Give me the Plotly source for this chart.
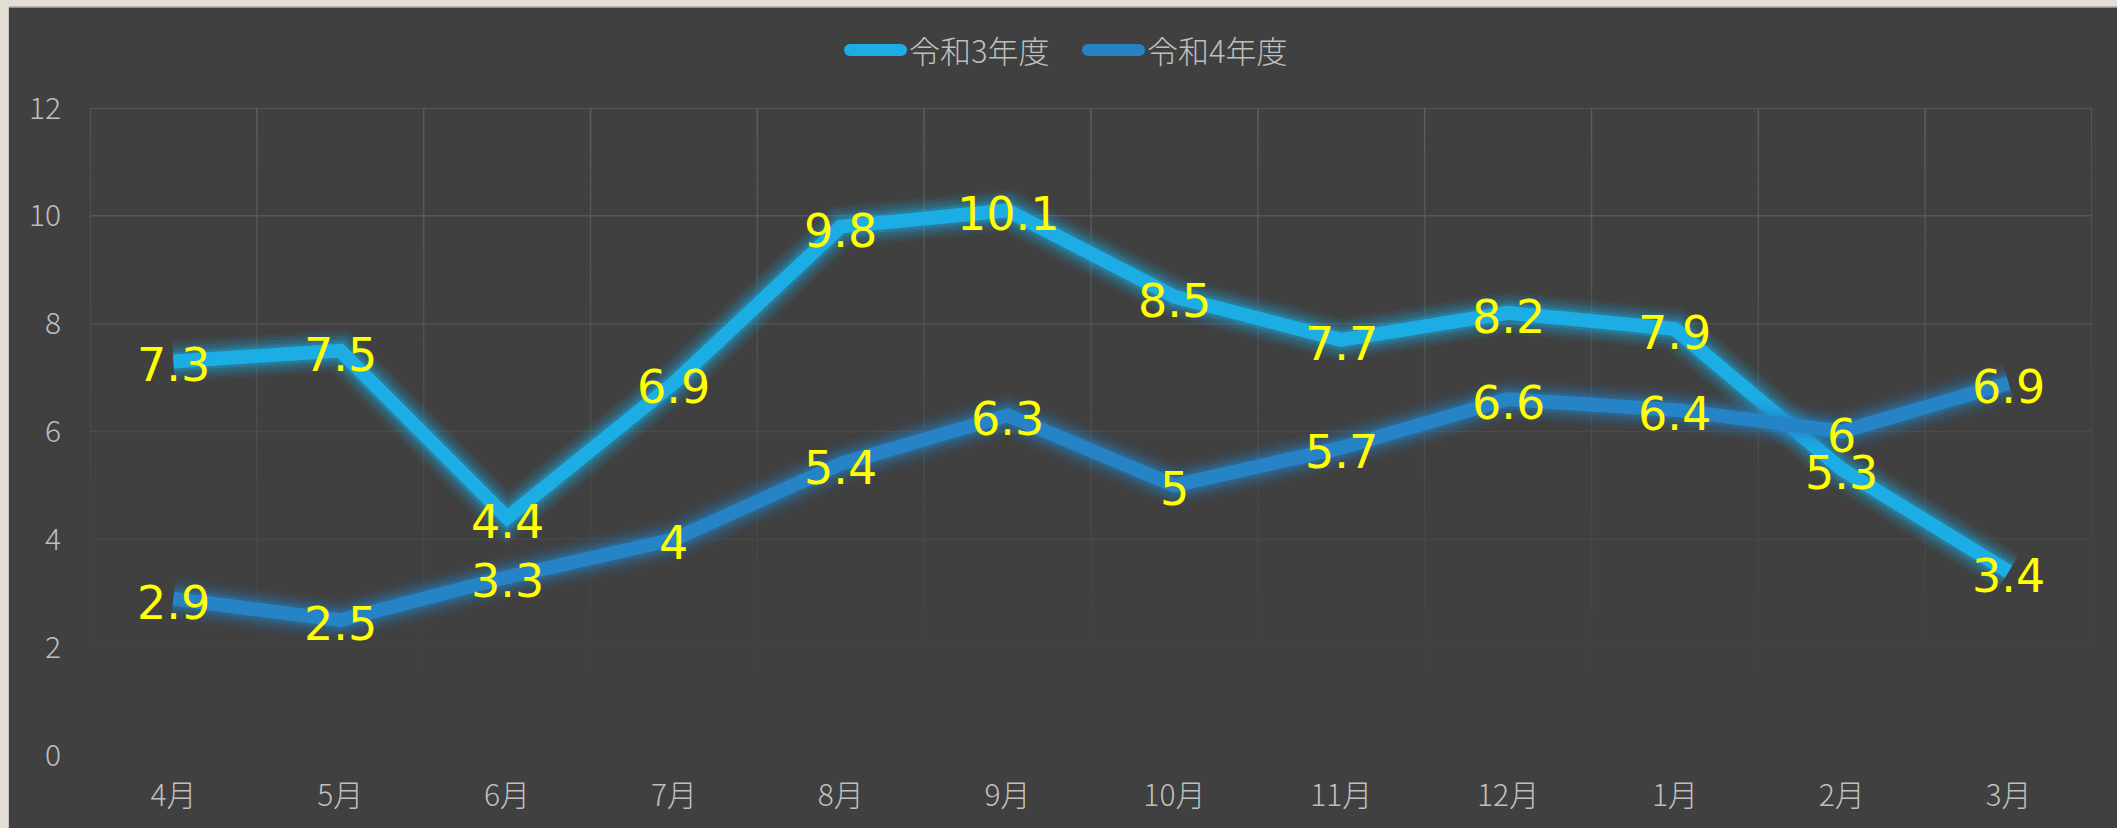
import plotly.graph_objects as go

# ---- data ----
months = ["4月", "5月", "6月", "7月", "8月", "9月", "10月", "11月", "12月", "1月", "2月", "3月"]
r3_name = "令和3年度"
r4_name = "令和4年度"
r3_values = [7.3, 7.5, 4.4, 6.9, 9.8, 10.1, 8.5, 7.7, 8.2, 7.9, 5.3, 3.4]
r4_values = [2.9, 2.5, 3.3, 4, 5.4, 6.3, 5, 5.7, 6.6, 6.4, 6, 6.9]
y_ticks = [0, 2, 4, 6, 8, 10, 12]

# ---- style ----
W, H = 2117, 828
ML, MR, MT, MB = 90, 25, 108, 73
PW, PH = W - ML - MR, H - MT - MB
BG = "#404040"
BEIGE = "#E4DFD6"
C3 = "#1CADE4"
C4 = "#2683C6"
TXT = "#BFBFBF"
TICK_FONT = dict(family="Noto Sans CJK JP, Lato, sans-serif", size=30, color=TXT, weight=300)
LEGEND_FONT = dict(family="Noto Sans CJK JP, sans-serif", size=31, color=TXT, weight=300)
LABEL_FONT = dict(family="DejaVu Sans, sans-serif", size=46, color="#FFFF00")

x_idx = list(range(len(months)))


def px_x(p):
    return (p - ML) / PW


def px_y(p):
    return (H - MB - p) / PH


fig = go.Figure()


def add_series(values, color, name):
    # glow halo
    for w, op in [(42, 0.07), (36, 0.09), (30, 0.12), (24, 0.18), (19, 0.25)]:
        fig.add_trace(go.Scatter(x=x_idx, y=values, mode="lines",
                                 line=dict(color=color, width=w),
                                 opacity=op, showlegend=False, hoverinfo="skip"))
    fig.add_trace(go.Scatter(x=x_idx, y=values, mode="lines", name=name,
                             line=dict(color=color, width=14), showlegend=False))


add_series(r3_values, C3, r3_name)
add_series(r4_values, C4, r4_name)

annotations = []
# data labels (drawn above all lines)
for values in (r3_values, r4_values):
    for xi, v in zip(x_idx, values):
        annotations.append(dict(x=xi, y=v, xref="x", yref="y", text=f"{v:g}", showarrow=False,
                                xanchor="center", yanchor="middle", yshift=-4,
                                font=LABEL_FONT, borderpad=0))

# ---- fading gridlines ----
y_top = max(y_ticks)
fade_end = 1.4


def grid_col(v):
    t = max(0.0, min(1.0, (v - fade_end) / (y_top - fade_end)))
    c = int(round(64 + (92 - 64) * t))
    return f"rgb({c},{c},{c})"


shapes = []
for v in y_ticks:
    if v <= fade_end:
        continue
    shapes.append(dict(type="line", xref="x", yref="y", x0=-0.5, x1=len(months) - 0.5,
                       y0=v, y1=v, line=dict(color=grid_col(v), width=1.5), layer="below"))
step = 0.3
for i in range(len(months) + 1):
    xv = i - 0.5
    v = y_top
    while v > fade_end:
        v2 = max(fade_end, v - step)
        shapes.append(dict(type="line", xref="x", yref="y", x0=xv, x1=xv, y0=v, y1=v2,
                           line=dict(color=grid_col((v + v2) / 2), width=1.5), layer="below"))
        v = v2

# ---- beige frame (top and left strips) ----
shapes.append(dict(type="rect", xref="paper", yref="paper", x0=px_x(0), x1=px_x(W),
                   y0=px_y(7), y1=px_y(0), fillcolor=BEIGE, line=dict(width=0), layer="below"))
shapes.append(dict(type="rect", xref="paper", yref="paper", x0=px_x(0), x1=px_x(9),
                   y0=px_y(H), y1=px_y(0), fillcolor=BEIGE, line=dict(width=0), layer="below"))
shapes.append(dict(type="line", xref="paper", yref="paper", x0=px_x(9), x1=px_x(W),
                   y0=px_y(7), y1=px_y(7), line=dict(color="#A8A8A8", width=1.5), layer="below"))
shapes.append(dict(type="line", xref="paper", yref="paper", x0=px_x(8.5), x1=px_x(8.5),
                   y0=px_y(H), y1=px_y(7), line=dict(color="#C8C4BC", width=1), layer="below"))

# ---- legend (pill symbols + labels) ----
LEG_Y = 50
LEG_TH = 12
legend_items = [(r3_name, C3, 844), (r4_name, C4, 1082)]
for name, color, x_start in legend_items:
    x_end = x_start + 63
    r = LEG_TH / 2
    shapes.append(dict(type="line", xref="paper", yref="paper",
                       x0=px_x(x_start + r), x1=px_x(x_end - r), y0=px_y(LEG_Y), y1=px_y(LEG_Y),
                       line=dict(color=color, width=LEG_TH), layer="above"))
    for cx in (x_start + r, x_end - r):
        shapes.append(dict(type="circle", xref="paper", yref="paper",
                           x0=px_x(cx - r), x1=px_x(cx + r), y0=px_y(LEG_Y + r), y1=px_y(LEG_Y - r),
                           fillcolor=color, line=dict(width=0), layer="above"))
    annotations.append(dict(xref="paper", yref="paper", x=px_x(x_end + 1), y=px_y(LEG_Y),
                            xanchor="left", yanchor="middle", text=name, showarrow=False,
                            font=LEGEND_FONT, borderpad=0))

fig.update_layout(
    width=W, height=H,
    margin=dict(l=ML, r=MR, t=MT, b=MB, pad=0),
    paper_bgcolor=BG, plot_bgcolor=BG,
    shapes=shapes,
    annotations=annotations,
    showlegend=False,
    xaxis=dict(range=[-0.5, len(months) - 0.5], tickmode="array", tickvals=x_idx, ticktext=months,
               showgrid=False, zeroline=False, showline=False, ticks="",
               tickfont=TICK_FONT, ticklabelstandoff=20),
    yaxis=dict(range=[0, y_top], tickmode="array", tickvals=y_ticks,
               showgrid=False, zeroline=False, showline=False, ticks="",
               tickfont=TICK_FONT, ticklabelstandoff=28),
)

fig.write_html("out.html", config={"displayModeBar": False},
               post_script="document.body.style.margin='0';document.body.style.overflow='hidden';")
